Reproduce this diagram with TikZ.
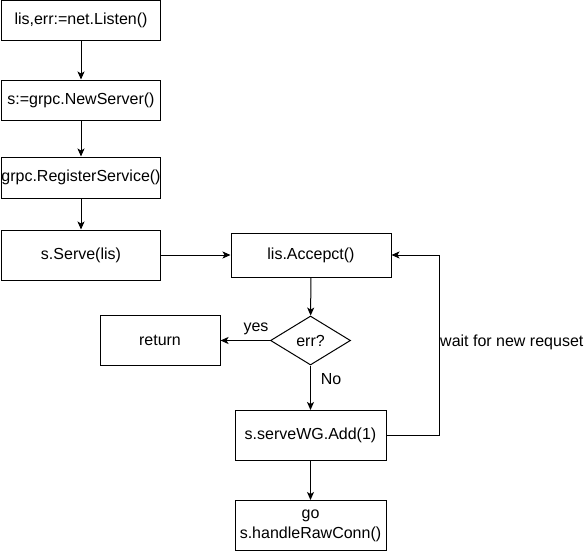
\documentclass[tikz,border=0pt]{standalone}
\usepackage{fontspec}
\setmainfont{Liberation Sans}
\usetikzlibrary{arrows.meta,shapes.geometric}
\begin{document}
\begin{tikzpicture}[x=1pt,y=-1pt,
  every node/.style={font=\fontsize{16}{20}\selectfont, inner sep=0pt},
  box/.style={draw, line width=1pt, rectangle, align=center},
  dec/.style={draw, line width=1pt, diamond, aspect=1.63, minimum width=80pt, minimum height=49pt},
  conn/.style={line width=1pt, -{Stealth[length=8pt,width=7pt,inset=2pt]}},
  lbl/.style={fill=none}]
\useasboundingbox (0,0) rectangle (586,551);
\node[box, minimum width=159pt, minimum height=40pt] (n1) at (81,20.5) {lis,err:=net.Listen()};
\node[box, minimum width=159pt, minimum height=40pt] (n2) at (81,100) {s:=grpc.NewServer()};
\node[box, minimum width=159pt, minimum height=41pt] (n3) at (81,177.5) {grpc.RegisterService()};
\node[box, minimum width=159pt, minimum height=50pt] (n4) at (81,255) {s.Serve(lis)};
\node[box, minimum width=160pt, minimum height=44pt] (acc) at (311,255) {lis.Accepct()};
\node[dec, inner sep=0pt] (dia) at (310.5,340.5) {err?};
\node[box, minimum width=120pt, minimum height=50pt] (ret) at (160,340.5) {return};
\node[box, minimum width=151pt, minimum height=50pt] (wg) at (310.5,435.5) {s.serveWG.Add(1)};
\node[box, minimum width=151pt, minimum height=50pt, text width=151pt, align=center] (go) at (310.5,525.5) {go\\s.handleRawConn()};
\draw[conn] (n1) -- (n2);
\draw[conn] (n2) -- (n3);
\draw[conn] (n3) -- (n4);
\draw[conn] (n4) -- (acc);
\draw[conn] (acc) -- (dia);
\draw[conn] (dia) -- (ret);
\draw[conn] (dia) -- (wg);
\draw[conn] (wg) -- (go);
\coordinate (lp) at (439.5,435.5);
\draw[conn] (wg.east) -- (lp) |- (acc.east);
\node[lbl] (yes) at (256,329) {yes};
\node[lbl] (no) at (331,379) {No};
\node[lbl, anchor=west] (wait) at (440,342) {wait for new requset};
\end{tikzpicture}
\end{document}
